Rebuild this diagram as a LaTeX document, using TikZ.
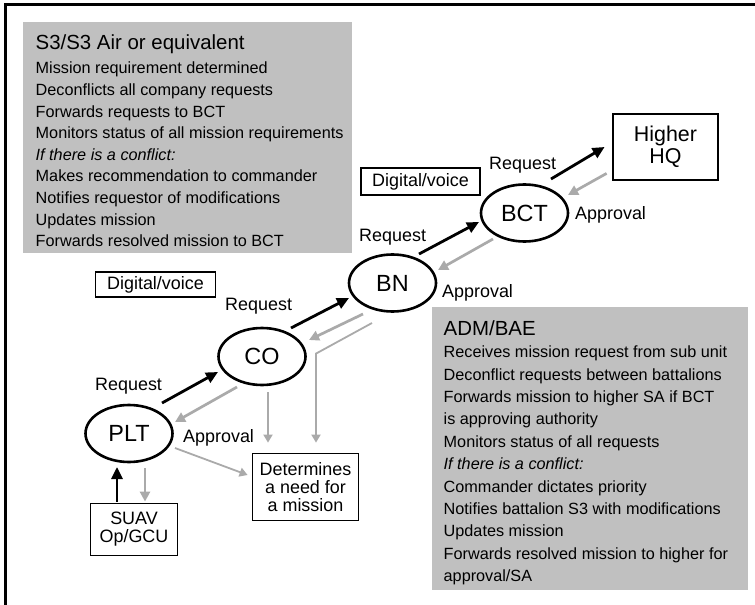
\documentclass[tikz,border=0pt]{standalone}
\usepackage{fontspec}
\setmainfont{Liberation Sans}
\usetikzlibrary{arrows.meta,calc,shapes.geometric}
\definecolor{panelgray}{RGB}{192,192,192}
\definecolor{backgray}{RGB}{170,170,170}
\begin{document}
\begin{tikzpicture}[x=1bp,y=-1bp,
  unit/.style={draw,ellipse,line width=2.6bp,minimum width=87bp,minimum height=57bp,inner sep=0pt,font=\fontsize{23.5}{26}\selectfont},
  tag/.style={draw,line width=1.8bp,inner sep=0pt,align=center,font=\fontsize{18}{18}\selectfont},
  lbl/.style={anchor=base west,inner sep=0pt,font=\fontsize{18}{20}\selectfont},
  head/.style={anchor=base west,inner sep=0pt,font=\fontsize{20.5}{22}\selectfont},
  item/.style={anchor=base west,inner sep=0pt,font=\fontsize{16.3}{18}\selectfont},
  req/.style={line width=2.8bp,-{Triangle[length=12bp,width=11bp]}},
  apr/.style={backgray,line width=2.7bp,-{Triangle[length=10bp,width=10bp]}},
  feed/.style={backgray,line width=1.8bp,-{Triangle[length=8bp,width=9bp]}}]
\useasboundingbox (0,0) rectangle (755,605);
\draw[line width=2.6bp] (5.5,605) -- (5.5,4.5) -- (755,4.5);
\fill[panelgray] (23,22) rectangle (352,253);
\fill[panelgray] (432,307) rectangle (748,590);
\node[head] (s3head) at (35.5,49.3) {S3/S3 Air or equivalent};
\foreach \t [count=\i from 0] in {Mission requirement determined, Deconflicts all company requests,
  Forwards requests to BCT, Monitors status of all mission requirements, \textit{If there is a conflict:},
  Makes recommendation to commander, Notifies requestor of modifications, Updates mission,
  Forwards resolved mission to BCT}
  \node[item] (s3l\i) at (35.5,{74+21.6*\i}) {\t};
\node[head] (admhead) at (443.5,335) {ADM/BAE};
\foreach \t [count=\i from 0] in {Receives mission request from sub unit, Deconflict requests between battalions,
  Forwards mission to higher SA if BCT, is approving authority, Monitors status of all requests,
  \textit{If there is a conflict:}, Commander dictates priority, Notifies battalion S3 with modifications,
  Updates mission, Forwards resolved mission to higher for, approval/SA}
  \node[item] (adml\i) at (443.5,{357.7+22.4*\i}) {\t};
\node[unit] (plt) at (129,433.5) {PLT};
\node[unit] (co) at (262,356.5) {CO};
\node[unit] (bn) at (392.5,283) {BN};
\node[unit] (bct) at (524.5,213) {BCT};
\node[tag,line width=2.8bp,minimum width=105bp,minimum height=66bp,font=\fontsize{21.5}{22}\selectfont] (hq) at (665.5,147) {Higher\\HQ};
\node[tag,minimum width=120bp,minimum height=25bp] (dvlow) at (155.5,284.5) {Digital/voice};
\node[tag,minimum width=119bp,minimum height=27bp] (dvhigh) at (420.5,181.5) {Digital/voice};
\node[tag,minimum width=106bp,minimum height=67bp] (need) at (305.5,487) {Determines\\a need for\\a mission};
\node[tag,minimum width=87bp,minimum height=52bp] (suav) at (134,529.5) {SUAV\\Op/GCU};
\node[lbl] (reqplt) at (95,390.7) {Request};
\node[lbl] (aprplt) at (183,442) {Approval};
\node[lbl] (reqco) at (225,310.7) {Request};
\node[lbl] (reqbn) at (359,241.7) {Request};
\node[lbl] (aprbn) at (442,297) {Approval};
\node[lbl] (reqbct) at (489,170) {Request};
\node[lbl] (aprbct) at (575,220) {Approval};
\draw[req] ($(plt)+(33,-30.5)$) -- ($(co)+(-44,15.5)$);
\draw[req] ($(co)+(29,-28.5)$) -- ($(bn)+(-43.5,15)$);
\draw[req] ($(bn)+(26.5,-29)$) -- ($(bct)+(-45.5,9)$);
\draw[req] ($(bct)+(26.5,-34)$) -- ($(hq.west)+(-7,0)$);
\draw[apr] ($(hq.south west)+(-5,-8)$) -- ($(bct)+(43.5,-18)$);
\draw[apr] ($(bct)+(-31.5,26)$) -- ($(bn)+(45.5,-13)$);
\draw[apr] ($(bn)+(-29.5,31)$) -- ($(co)+(47,-16.5)$);
\draw[apr] ($(co)+(-25,30.5)$) -- ($(plt)+(46,-11.5)$);
\draw[feed] ($(bn)+(-20.5,40)$) -- ($(need.north)+(10.5,-99)$) -- ($(need.north)+(10.5,-10)$);
\draw[feed] ($(co)+(6,35.5)$) -- ($(need.north)+(-37.5,-10)$);
\draw[feed] ($(plt)+(46,14.5)$) -- ($(need.west)+(-4,-12)$);
\draw[apr] ($(plt)+(16,34.5)$) -- ($(suav.north)+(11,-1)$);
\draw[req] ($(suav.north)+(-17,-1)$) -- ($(plt)+(-12,33.5)$);
\end{tikzpicture}
\end{document}
